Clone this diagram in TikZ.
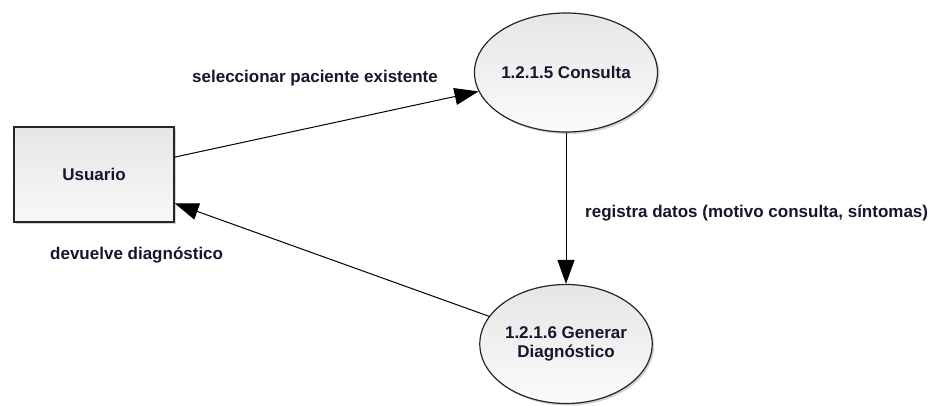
\documentclass[tikz,border=0pt]{standalone}
\usepackage{fontspec}
\setmainfont{Liberation Sans}
\usetikzlibrary{shapes.geometric,shadows,arrows.meta}
\definecolor{labelink}{RGB}{22,22,44}

\begin{document}
\begin{tikzpicture}[x=1pt,y=-1pt]
		\begin{scope}[scale=1]
		
		\tikzstyle{myentity}=[rectangle,
		draw=black!85,
		line width=1.2pt,
		top color=gray!20,
		bottom color=gray!5,
		drop shadow={opacity=0.35,shadow xshift=2pt,shadow yshift=-2pt},
		text=labelink,
		inner sep=0pt,
		minimum width=160pt,
		minimum height=95pt,
		font=\fontsize{17}{19.5}\selectfont\bfseries
		]
		\tikzstyle{myprocess}=[ellipse,
		draw=black!85,
		line width=1.2pt,
		top color=gray!20,
		bottom color=gray!3,
		drop shadow={opacity=0.35,shadow xshift=2pt,shadow yshift=-2pt},
		text=labelink,
		align=center,
		inner sep=0pt,
		minimum width=161pt,
		minimum height=119pt,
		font=\fontsize{17}{19.5}\selectfont\bfseries
		]
		\tikzstyle{myflow}=[line width=1pt,
		-{Triangle[length=24pt,width=17pt]}
		]
		\tikzstyle{mylabel}=[text=labelink,
		inner sep=0pt,
		font=\fontsize{17}{19.5}\selectfont\bfseries
		]
		
		\useasboundingbox (0, 0) rectangle (941, 405);
		
		\coordinate (pu) at (94, 174.5);
		
		\coordinate (pc) at (566, 72.5);
		\coordinate (pg) at (566, 344);
		
		\coordinate (t1) at (192, 78);
		\coordinate (t2) at (585, 213);
		\coordinate (t3) at (50, 255);
		
		
		\node[myentity] (usuario) at (pu) {Usuario};
		\node[myprocess] (consulta) at (pc) {1.2.1.5 Consulta};
		\node[myprocess] (generar) at (pg) {1.2.1.6 Generar\\Diagnóstico};
		
		
		\draw[myflow] (usuario) -- (consulta);
		\draw[myflow] (consulta.south) -- (generar.north);
		\draw[myflow] (generar) -- (usuario);
		

		\draw[] (t1) node[mylabel,right] {seleccionar paciente existente};
		\draw[] (t2) node[mylabel,right] {registra datos (motivo consulta, síntomas)};
		\draw[] (t3) node[mylabel,right] {devuelve diagnóstico};
		
		\end{scope}
		\end{tikzpicture}
\end{document}
